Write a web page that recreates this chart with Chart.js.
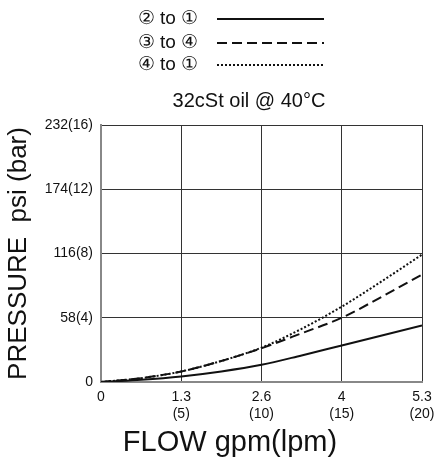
<!DOCTYPE html>
<html>
<head>
<meta charset="utf-8">
<script src="https://cdn.jsdelivr.net/npm/chart.js@4"></script>
<style>
  body { margin: 0; background: #fff; }
  #wrap { width: 435px; height: 464px; }
</style>
</head>
<body>
<div id="wrap"><canvas id="myChart"></canvas></div>
<script>
// flow in lpm (ticks also show gpm)
const flowLpm = [0, 2.5, 5, 7.5, 10, 12.5, 15, 17.5, 20];
// pressure in psi
const p2to1 = [0, 2, 5, 9.5, 15.5, 24, 33, 42, 51];
const p3to4 = [0, 3.5, 9.5, 19, 30.5, 44, 58, 77, 97];
const p4to1 = [0, 3.5, 9.5, 19, 31, 48, 68, 91, 115];

const seriesLabels = ["② to ①", "③ to ④", "④ to ①"];
const xTickLabels = [["0"], ["1.3", "(5)"], ["2.6", "(10)"], ["4", "(15)"], ["5.3", "(20)"]];
const yTickLabels = ["0", "58(4)", "116(8)", "174(12)", "232(16)"];

const FONT = "'Liberation Sans', Arial, sans-serif";

function pts(ys) {
  return flowLpm.map((x, i) => ({ x: x, y: ys[i] }));
}

var data = {
  datasets: [
    { label: seriesLabels[0], data: pts(p2to1), borderColor: "#111", borderWidth: 2, borderDash: [] },
    { label: seriesLabels[1], data: pts(p3to4), borderColor: "#111", borderWidth: 2, borderDash: [10, 5] },
    { label: seriesLabels[2], data: pts(p4to1), borderColor: "#111", borderWidth: 2, borderDash: [2, 2] },
  ],
};

// legend, subtitle and x title drawn by hand
const extraText = {
  id: "extraText",
  afterDraw(chart) {
    const c = chart.ctx;
    c.save();
    c.fillStyle = "#111";
    c.strokeStyle = "#111";
    c.textBaseline = "middle";
    c.font = "19px " + FONT;
    const rows = [19, 43, 65];
    chart.data.datasets.forEach((ds, i) => {
      c.textAlign = "right";
      c.fillText(ds.label, 198, rows[i]);
      c.lineWidth = ds.borderWidth;
      c.setLineDash(ds.borderDash);
      c.beginPath();
      c.moveTo(217, rows[i]);
      c.lineTo(324, rows[i]);
      c.stroke();
    });
    c.setLineDash([]);
    c.textAlign = "center";
    c.font = "20px " + FONT;
    c.fillText("32cSt oil @ 40°C", 249, 101);
    c.font = "29px " + FONT;
    c.fillText("FLOW gpm(lpm)", 230, 443);
    c.restore();
  },
};

var options = {
  responsive: true,
  maintainAspectRatio: false,
  animation: false,
  layout: { padding: { top: 125, right: 13, left: 0, bottom: 0 } },
  elements: {
    point: { radius: 0 },
    line: { cubicInterpolationMode: "monotone" },
  },
  plugins: {
    legend: { display: false },
    tooltip: { enabled: false },
  },
  scales: {
    x: {
      type: "linear",
      min: 0,
      max: 20,
      afterFit: (s) => { s.height = 82; s.paddingLeft = 0; s.paddingRight = 0; },
      ticks: {
        stepSize: 5,
        padding: 7,
        color: "#111",
        font: { family: FONT, size: 14 },
        callback: (v) => xTickLabels[v / 5],
      },
      grid: { color: "#333", lineWidth: 1, drawTicks: false },
      border: { color: "#888", width: 2 },
    },
    y: {
      min: 0,
      max: 232,
      afterFit: (s) => { s.width = 101; s.paddingTop = 0; s.paddingBottom = 0; },
      ticks: {
        stepSize: 58,
        padding: 8,
        color: "#111",
        font: { family: FONT, size: 14 },
        callback: (v) => yTickLabels[v / 58],
      },
      grid: { color: "#333", lineWidth: 1, drawTicks: false },
      border: { color: "#888", width: 2 },
      title: {
        display: true,
        text: "PRESSURE  psi (bar)",
        color: "#111",
        font: { family: FONT, size: 26 },
        padding: { top: 3, bottom: 0 },
      },
    },
  },
};

const ctx = document.getElementById("myChart").getContext("2d");
const myChart = new Chart(ctx, {
  type: "line",
  data: data,
  options: options,
  plugins: [extraText],
});
</script>
</body>
</html>
